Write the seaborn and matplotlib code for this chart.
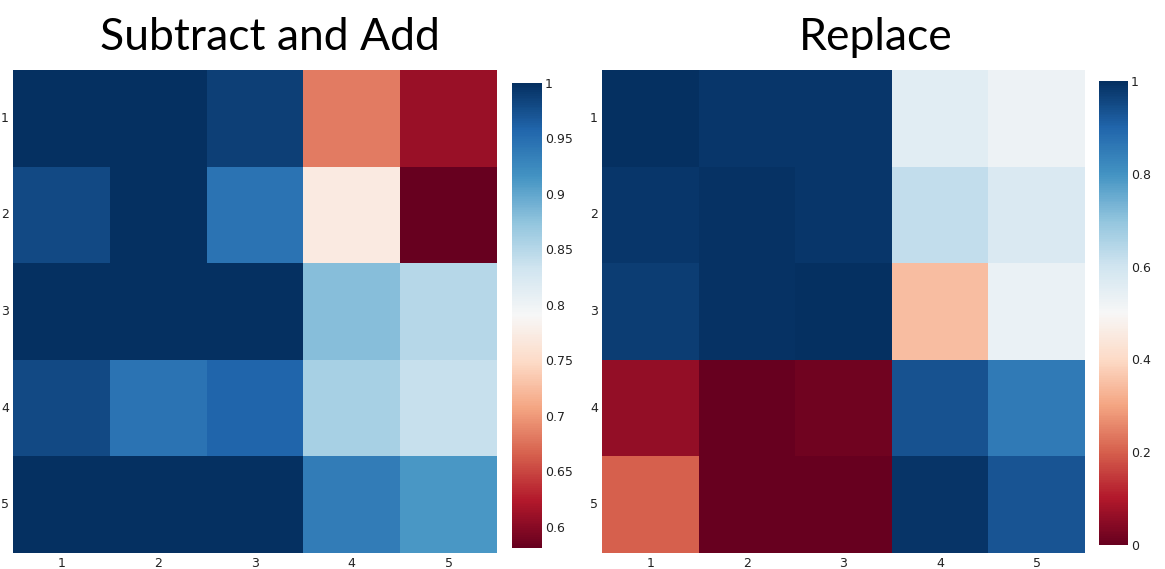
import numpy as np
import pandas as pd
import matplotlib
matplotlib.use("Agg")
import matplotlib.pyplot as plt
import seaborn as sns

# cell values
labels = [1, 2, 3, 4, 5]

subtract_add = [
    [1.000, 1.000, 0.988, 0.682, 0.610],
    [0.979, 1.000, 0.945, 0.771, 0.581],
    [1.000, 1.000, 1.000, 0.880, 0.850],
    [0.979, 0.945, 0.958, 0.860, 0.839],
    [1.000, 1.000, 1.000, 0.937, 0.912],
]

replace = [
    [1.000, 0.985, 0.985, 0.558, 0.526],
    [0.985, 0.995, 0.988, 0.624, 0.576],
    [0.975, 0.995, 0.997, 0.344, 0.532],
    [0.060, 0.000, 0.012, 0.936, 0.853],
    [0.200, 0.000, 0.000, 0.992, 0.930],
]

titles = ["Subtract and Add", "Replace"]
cbar_ticks = [
    [0.6, 0.65, 0.7, 0.75, 0.8, 0.85, 0.9, 0.95, 1.0],
    [0, 0.2, 0.4, 0.6, 0.8, 1.0],
]

sns.set_style("white")
plt.rcParams["font.family"] = ["DejaVu Sans"]

fig = plt.figure(figsize=(11.65, 5.69), dpi=100)

W, H = 1165, 569
def box(x0, y0, x1, y1):
    # pixel box -> figure fraction rect
    return [x0 / W, 1 - y1 / H, (x1 - x0) / W, (y1 - y0) / H]

panels = [
    dict(data=subtract_add, ax=box(13, 70, 497, 553), cax=box(512, 83, 542, 548), tx=270),
    dict(data=replace, ax=box(602, 70, 1085, 553), cax=box(1099, 81, 1128, 545), tx=876),
]

def fmt(v):
    s = f"{v:.2f}".rstrip("0").rstrip(".")
    return s

tick_font = dict(family="DejaVu Sans", size=9)

for i, p in enumerate(panels):
    df = pd.DataFrame(p["data"], index=labels, columns=labels)
    ax = fig.add_axes(p["ax"])
    cax = fig.add_axes(p["cax"])
    sns.heatmap(df, ax=ax, cbar_ax=cax, cmap="RdBu",
                vmin=df.values.min(), vmax=df.values.max(),
                cbar_kws={"ticks": cbar_ticks[i]})
    ax.tick_params(length=0, colors="#222222", pad=3)
    ax.set_yticklabels(labels, rotation=0, fontdict=tick_font)
    ax.set_xticklabels(labels, rotation=0, fontdict=tick_font)
    ax.set_xlabel("")
    ax.set_ylabel("")
    cb = ax.collections[0].colorbar
    cb.outline.set_visible(False)
    cax.tick_params(length=0, colors="#222222", pad=2)
    cax.set_yticklabels([fmt(t) for t in cbar_ticks[i]], fontdict=tick_font)
    fig.text(p["tx"] / W, 1 - 37 / H, titles[i], ha="center", va="center",
             fontsize=32, family=["Lato", "DejaVu Sans"], color="black")

fig.savefig("out.png", dpi=100)
